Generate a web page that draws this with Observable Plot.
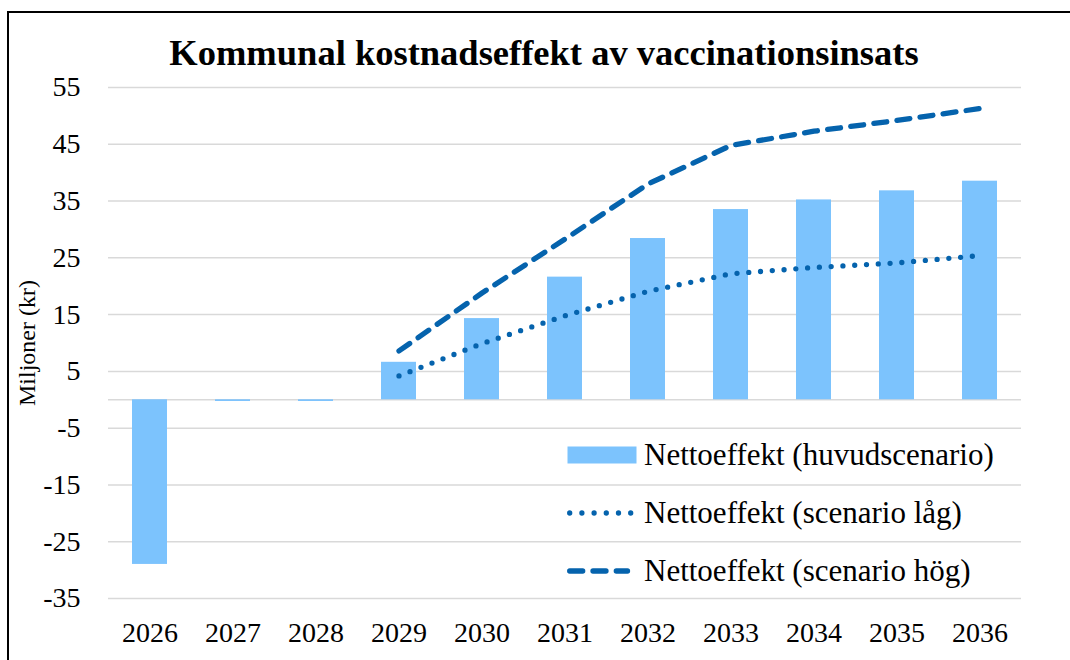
<!DOCTYPE html>
<html>
<head>
<meta charset="utf-8">
<script src="https://cdn.jsdelivr.net/npm/d3@7"></script>
<script src="https://cdn.jsdelivr.net/npm/@observablehq/plot@0.6"></script>
<style>
  html, body { margin: 0; padding: 0; background: #fff; }
  #wrap { position: relative; width: 1070px; height: 660px; overflow: hidden; font-family: "Liberation Serif", serif; color: #000; }
  #border { position: absolute; left: 7px; top: 11px; width: 1200px; height: 800px; border-left: 2px solid #000; border-top: 2px solid #000; box-sizing: border-box; }
  #title { position: absolute; left: 0; top: 33px; width: 1088px; height: 40px; line-height: 40px; text-align: center; font-size: 36.5px; font-weight: bold; white-space: nowrap; }
  #chart { position: absolute; left: 0; top: 75px; }
  #chart svg, #chart svg text { font-family: "Liberation Serif", serif !important; }
  #legend { position: absolute; left: 567px; top: 0; font-size: 31px; }
  .row { position: absolute; left: 0; height: 40px; display: flex; align-items: center; white-space: nowrap; }
  .row svg { margin-right: 7px; flex: none; }
  #chart g[aria-label="y-axis label"] text { font-size: 24px; }
</style>
</head>
<body>
<div id="wrap">
  <div id="border"></div>
  <div id="title"></div>
  <div id="chart"></div>
  <div id="legend"></div>
</div>
<script>
// ---- data ----
const years = ["2026", "2027", "2028", "2029", "2030", "2031", "2032", "2033", "2034", "2035", "2036"];
const huvudscenario = [-29.0, -0.3, -0.3, 6.6, 14.3, 21.6, 28.4, 33.5, 35.2, 36.8, 38.5];
const scenarioLag   = [null, null, null, 4.2, 9.9, 14.8, 19.1, 22.2, 23.3, 24.1, 25.4];
const scenarioHog   = [null, null, null, 8.6, 18.8, 28.3, 38.0, 44.8, 47.3, 49.2, 51.3];
const yTicks = [-35, -25, -15, -5, 5, 15, 25, 35, 45, 55];
const titleText = "Kommunal kostnadseffekt av vaccinationsinsats";
const yLabel = "Miljoner (kr)";
const seriesNames = ["Nettoeffekt (huvudscenario)", "Nettoeffekt (scenario låg)", "Nettoeffekt (scenario hög)"];

// ---- styles ----
const barColor = "#7cc3fd";
const lineColor = "#0563ad";
const gridColor = "#d9d9d9";

document.getElementById("title").textContent = titleText;

const rows = years.map((y, i) => ({year: y, v: huvudscenario[i], lo: scenarioLag[i], hi: scenarioHog[i]}));
const loRows = rows.filter(d => d.lo != null);
const hiRows = rows.filter(d => d.hi != null);

const chart = Plot.plot({
  width: 1070,
  height: 585,
  marginTop: 12,
  marginBottom: 62,
  marginLeft: 108,
  marginRight: 49,
  style: {fontFamily: '"Liberation Serif", serif', fontSize: "28px", color: "#000", background: "transparent", overflow: "visible"},
  x: {type: "band", domain: years, paddingInner: 0.58, paddingOuter: 0.29, label: null, tickSize: 0, tickPadding: 24},
  y: {domain: [-35, 55], ticks: yTicks, tickFormat: d => String(d), tickSize: 0, tickPadding: 28,
      label: yLabel, labelAnchor: "center", labelOffset: 91, labelArrow: "none"},
  marks: [
    Plot.ruleY(yTicks.concat([0]), {stroke: gridColor, strokeWidth: 1.5}),
    Plot.barY(rows, {x: "year", y: "v", fill: barColor}),
    Plot.lineY(loRows, {x: "year", y: "lo", stroke: lineColor, strokeWidth: 5.3, strokeDasharray: "0 11.8", strokeLinecap: "round"}),
    Plot.lineY(hiRows, {x: "year", y: "hi", stroke: lineColor, strokeWidth: 5.3, strokeDasharray: "13 10.3", strokeLinecap: "round"})
  ]
});
document.getElementById("chart").appendChild(chart);

// ---- legend ----
const legend = document.getElementById("legend");
const rowCenters = [455, 513, 571];
const swatches = [
  `<svg width="70" height="20"><rect x="0.5" y="1.5" width="69" height="17" fill="${barColor}"/></svg>`,
  `<svg width="70" height="20"><line x1="2.7" y1="10" x2="67" y2="10" stroke="${lineColor}" stroke-width="5.3" stroke-dasharray="0 12.2" stroke-linecap="round"/></svg>`,
  `<svg width="70" height="20"><line x1="2.7" y1="10" x2="60.5" y2="10" stroke="${lineColor}" stroke-width="5.3" stroke-dasharray="13 10.3" stroke-linecap="round"/></svg>`
];
seriesNames.forEach((name, i) => {
  const r = document.createElement("div");
  r.className = "row";
  r.style.top = (rowCenters[i] - 20) + "px";
  r.innerHTML = swatches[i] + `<span>${name}</span>`;
  legend.appendChild(r);
});
</script>
</body>
</html>
